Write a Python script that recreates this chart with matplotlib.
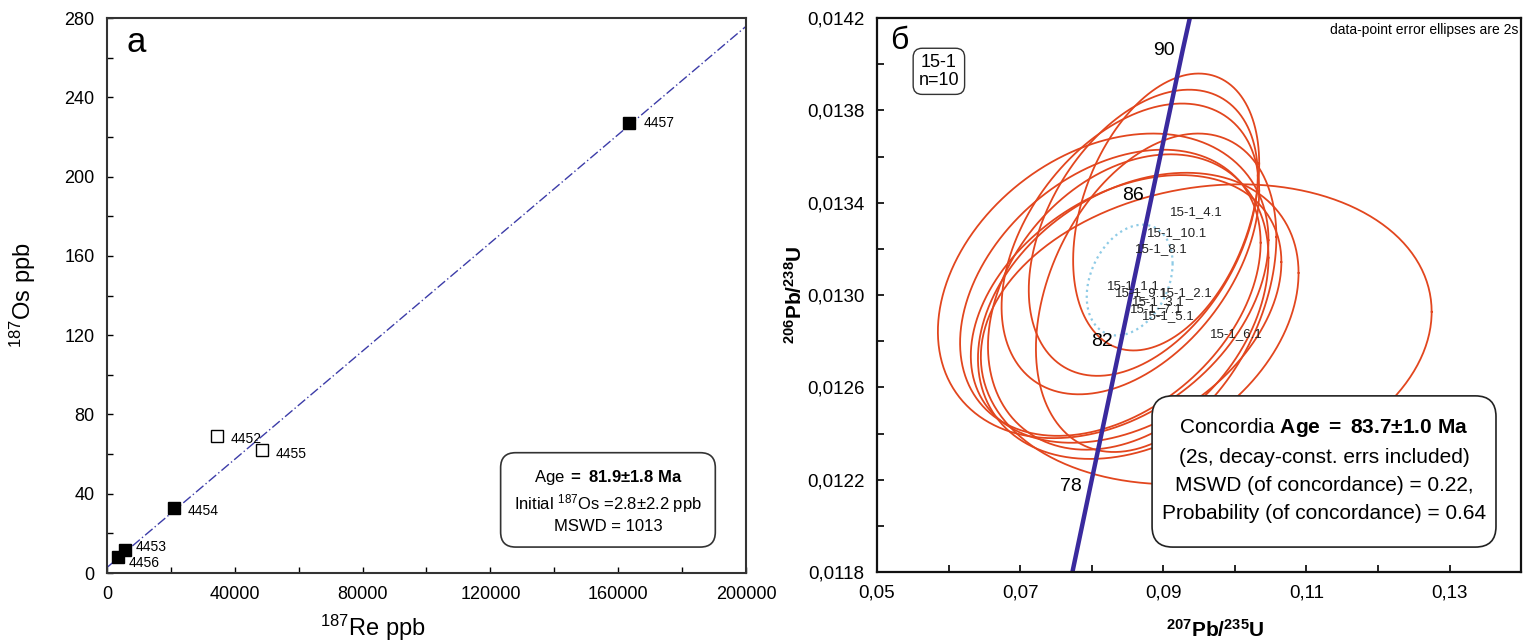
import numpy as np
import matplotlib
matplotlib.use("Agg")
import matplotlib.pyplot as plt
from matplotlib.patches import FancyBboxPatch
from matplotlib.ticker import FixedLocator, FuncFormatter

plt.rcParams['font.family'] = ['Liberation Sans', 'DejaVu Sans']
plt.rcParams['mathtext.fontset'] = 'custom'
plt.rcParams['mathtext.rm'] = 'Liberation Sans'
plt.rcParams['mathtext.it'] = 'Liberation Sans:italic'
plt.rcParams['mathtext.bf'] = 'Liberation Sans:bold'
plt.rcParams['mathtext.sf'] = 'Liberation Sans'
plt.rcParams['mathtext.default'] = 'regular'

# ---- panel a: Re-Os isochron ----
re_ppb = [163500, 34400, 48500, 21000, 5600, 3400]
os_ppb = [227.0, 69.0, 62.0, 32.8, 11.6, 8.1]
sample = ['4457', '4452', '4455', '4454', '4453', '4456']
filled = [True, False, False, True, True, True]
label_off = [(10, 0), (10, -2), (10, -3), (10, -2), (8, 2), (8, -4)]

fit_x = [0, 200000]
fit_y = [2.8, 275.8]

a_xticks = [0, 40000, 80000, 120000, 160000, 200000]
a_xminor = [20000, 60000, 100000, 140000, 180000]
a_yticks = [0, 40, 80, 120, 160, 200, 240, 280]
a_yminor = [20, 60, 100, 140, 180, 220, 260]

# ---- panel b: U-Pb concordia ----
spot = ['15-1_4.1', '15-1_10.1', '15-1_8.1', '15-1_1.1', '15-1_9.1',
        '15-1_2.1', '15-1_3.1', '15-1_7.1', '15-1_5.1', '15-1_6.1']
pb207_u235 = [0.0904, 0.0872, 0.0854, 0.0816, 0.0826, 0.0890, 0.0851, 0.0848, 0.0865, 0.0960]
err_x = [0.0130, 0.0160, 0.0180, 0.0231, 0.0210, 0.0168, 0.0196, 0.0217, 0.0224, 0.0315]
pb206_u238 = [0.01336, 0.01327, 0.01320, 0.01304, 0.01301, 0.01301, 0.01297, 0.01294, 0.01291, 0.01283]
err_y = [0.00060, 0.00062, 0.00063, 0.00066, 0.00062, 0.00069, 0.00064, 0.00058, 0.00062, 0.00065]
rho = [0.35, 0.4, 0.4, 0.3, 0.35, 0.35, 0.3, 0.35, 0.3, 0.15]

conc_center = (0.0853, 0.013065)
conc_err = (0.0060, 0.00024)
conc_rho = 0.3

conc_x = [0.0773, 0.0798, 0.0841, 0.0884, 0.0927, 0.0937]
conc_y = [0.01180, 0.01217, 0.01280, 0.01343, 0.01406, 0.01420]
conc_age = ['', '78', '82', '86', '90', '']

b_xticks = [0.05, 0.07, 0.09, 0.11, 0.13]
b_xminor = [0.06, 0.08, 0.10, 0.12, 0.14]
b_yticks = [0.0118, 0.0122, 0.0126, 0.0130, 0.0134, 0.0138, 0.0142]
b_yminor = [0.0120, 0.0124, 0.0128, 0.0132, 0.0136, 0.0140]

fig = plt.figure(figsize=(15.24, 6.44), dpi=100)
ax1 = fig.add_axes([0.0702, 0.1102, 0.4193, 0.8618])
ax2 = fig.add_axes([0.5755, 0.1118, 0.4226, 0.8600])

# panel a
ax1.plot(fit_x, fit_y, color='#3c3ca8', lw=1.0, ls=(0, (7, 2, 1, 2)))
for x, y, s, f, off in zip(re_ppb, os_ppb, sample, filled, label_off):
    ax1.plot(x, y, 's', ms=8.5 if f else 8, mfc='black' if f else 'white',
             mec='black', mew=1.0)
    ax1.annotate(s, (x, y), xytext=off, textcoords='offset points',
                 fontsize=10, va='center', ha='left')
ax1.set_xlim(0, 200000)
ax1.set_ylim(0, 280)
ax1.xaxis.set_major_locator(FixedLocator(a_xticks))
ax1.xaxis.set_minor_locator(FixedLocator(a_xminor))
ax1.yaxis.set_major_locator(FixedLocator(a_yticks))
ax1.yaxis.set_minor_locator(FixedLocator(a_yminor))
ax1.tick_params(which='both', direction='in', length=4, width=1, labelsize=13, pad=9)
for sp in ax1.spines.values():
    sp.set_linewidth(1.5)
    sp.set_color('#333333')
ax1.set_xlabel('$^{187}$Re ppb', fontsize=17)
ax1.xaxis.set_label_coords(0.416, -0.072)
ax1.set_ylabel('$^{187}$Os ppb', fontsize=17)
ax1.yaxis.set_label_coords(-0.108, 0.5)
ax1.text(0.03, 0.985, 'а', transform=ax1.transAxes, fontsize=25, va='top', ha='left')
ax1.text(0.784, 0.13,
         'Age $\\mathbf{=\\ 81.9±1.8\\ Ma}$\nInitial $^{187}$Os =2.8±2.2 ppb\nMSWD = 1013',
         transform=ax1.transAxes, ha='center', va='center', multialignment='center',
         fontsize=12, linespacing=1.3,
         bbox=dict(boxstyle='round,pad=0.8,rounding_size=0.9', fc='white',
                   ec='#333333', lw=1.2))

# panel b
t = np.linspace(0, 2 * np.pi, 300)
for cx, sx, cy, sy, r, s in zip(pb207_u235, err_x, pb206_u238, err_y, rho, spot):
    ex = cx + sx * np.cos(t)
    ey = cy + sy * (r * np.cos(t) + np.sqrt(1 - r * r) * np.sin(t))
    ax2.plot(ex, ey, color='#e2461e', lw=1.3)

cx, cy = conc_center
ex = cx + conc_err[0] * np.cos(t)
ey = cy + conc_err[1] * (conc_rho * np.cos(t) + np.sqrt(1 - conc_rho ** 2) * np.sin(t))
ax2.plot(ex, ey, color='#8ecbe6', lw=1.6, ls=':')

ax2.plot(conc_x, conc_y, color='#3a2a9e', lw=3.2, solid_capstyle='butt')
for x, y, a in zip(conc_x, conc_y, conc_age):
    if a:
        ax2.annotate(a, (x, y), xytext=(-6, 0), textcoords='offset points',
                     fontsize=14, ha='right', va='center')

for cx, cy, s in zip(pb207_u235, pb206_u238, spot):
    ax2.annotate(s, (cx, cy), xytext=(3, 0), textcoords='offset points',
                 fontsize=9.5, ha='left', va='center', color='#222222')

ax2.set_xlim(0.05, 0.14)
ax2.set_ylim(0.0118, 0.0142)
ax2.xaxis.set_major_locator(FixedLocator(b_xticks))
ax2.xaxis.set_minor_locator(FixedLocator(b_xminor))
ax2.yaxis.set_major_locator(FixedLocator(b_yticks))
ax2.yaxis.set_minor_locator(FixedLocator(b_yminor))
ax2.xaxis.set_major_formatter(FuncFormatter(lambda v, p: f'{v:.2f}'.replace('.', ',')))
ax2.yaxis.set_major_formatter(FuncFormatter(lambda v, p: f'{v:.4f}'.replace('.', ',')))
ax2.tick_params(which='both', direction='in', length=5, width=1.2, labelsize=13.5, pad=9)
for sp in ax2.spines.values():
    sp.set_linewidth(1.6)
    sp.set_color('#111111')
ax2.set_xlabel('$\\mathbf{^{207}Pb/^{235}U}$', fontsize=15)
ax2.xaxis.set_label_coords(0.525, -0.085)
ax2.set_ylabel('$\\mathbf{^{206}Pb/^{238}U}$', fontsize=15)
ax2.yaxis.set_label_coords(-0.11, 0.5)

ax2.text(0.02, 0.985, 'б', transform=ax2.transAxes, fontsize=23, va='top', ha='left')
ax2.text(0.096, 0.904, '15-1\nn=10', transform=ax2.transAxes, ha='center', va='center',
         fontsize=13, linespacing=1.1,
         bbox=dict(boxstyle='round,pad=0.3,rounding_size=0.5', fc='white',
                   ec='#333333', lw=1.0))
ax2.text(0.995, 0.978, 'data-point error ellipses are 2s', transform=ax2.transAxes,
         ha='right', va='center', fontsize=10)

# rounded results box drawn separately so its size matches the reference
box = FancyBboxPatch((0.427, 0.045), 0.534, 0.273, transform=ax2.transAxes,
                     boxstyle='round,pad=0,rounding_size=0.032',
                     mutation_aspect=644 / 554, fc='white', ec='#222222', lw=1.2,
                     zorder=4)
ax2.add_patch(box)
ax2.text(0.694, 0.185,
         'Concordia $\\mathbf{Age\\ =\\ 83.7±1.0\\ Ma}$\n(2s, decay-const. errs included)\n'
         'MSWD (of concordance) = 0.22,\nProbability (of concordance) = 0.64',
         transform=ax2.transAxes, ha='center', va='center', multialignment='center',
         fontsize=15, linespacing=1.6, zorder=5)

fig.savefig('out.png', dpi=100, facecolor='white')
